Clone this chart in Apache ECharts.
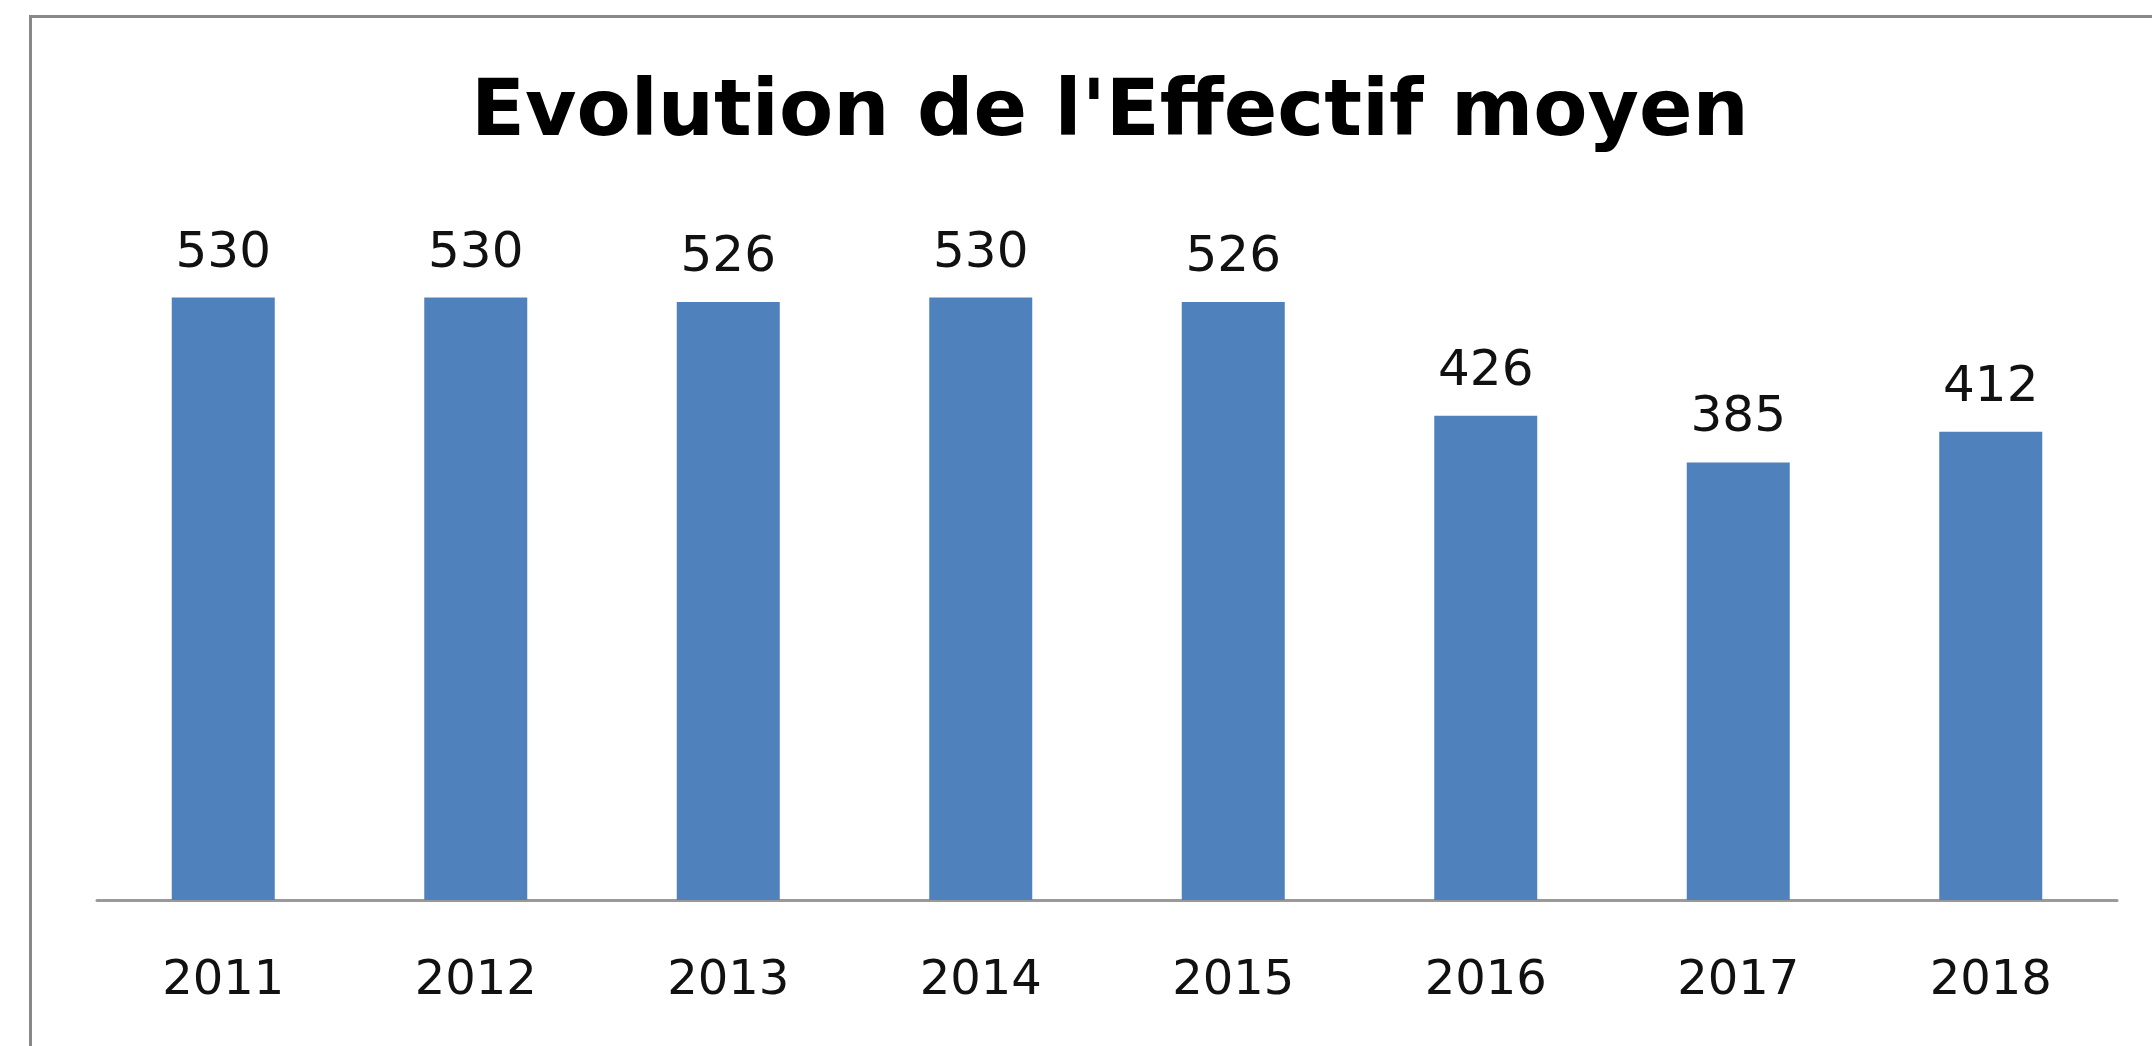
<!DOCTYPE html>
<html>
<head>
<meta charset="utf-8">
<script src="https://cdn.jsdelivr.net/npm/echarts@6/dist/echarts.min.js"></script>
<style>
  html, body { margin: 0; padding: 0; background: #fff; }
  #main { position: absolute; left: 0; top: 0; width: 2152px; height: 1046px; }
  /* cadre gris du graphique (coupé à droite et en bas) */
  #cadre { position: absolute; left: 29px; top: 15px; width: 2200px; height: 1100px;
           border-left: 3px solid #888; border-top: 3px solid #888; pointer-events: none; }
</style>
</head>
<body>
<div id="main"></div>
<div id="cadre"></div>
<script>
// données
var annees = ['2011', '2012', '2013', '2014', '2015', '2016', '2017', '2018'];
var effectif = [530, 530, 526, 530, 526, 426, 385, 412];

var chart = echarts.init(document.getElementById('main'));

var option = {
  animation: false,
  title: {
    text: "Evolution de l'Effectif moyen",
    left: 466,
    top: 70,
    textStyle: {
      fontFamily: 'DejaVu Sans',
      fontWeight: 'bold',
      fontSize: 79,
      color: '#000'
    }
  },
  grid: {
    left: 97,
    right: 35,
    top: 218,
    bottom: 146
  },
  xAxis: {
    type: 'category',
    data: annees,
    axisLine: { lineStyle: { color: '#999', width: 3 } },
    axisTick: { show: false },
    axisLabel: {
      margin: 58,
      fontFamily: 'DejaVu Sans',
      fontSize: 48,
      color: '#111'
    }
  },
  yAxis: {
    type: 'value',
    min: 0,
    max: 600,
    show: false,
    splitLine: { show: false }
  },
  series: [{
    type: 'bar',
    data: effectif,
    barWidth: 103,
    itemStyle: { color: '#4f81bd' },
    label: {
      show: true,
      position: 'top',
      distance: 19,
      fontFamily: 'DejaVu Sans',
      fontSize: 50,
      color: '#111'
    }
  }]
};

chart.setOption(option);
</script>
</body>
</html>
